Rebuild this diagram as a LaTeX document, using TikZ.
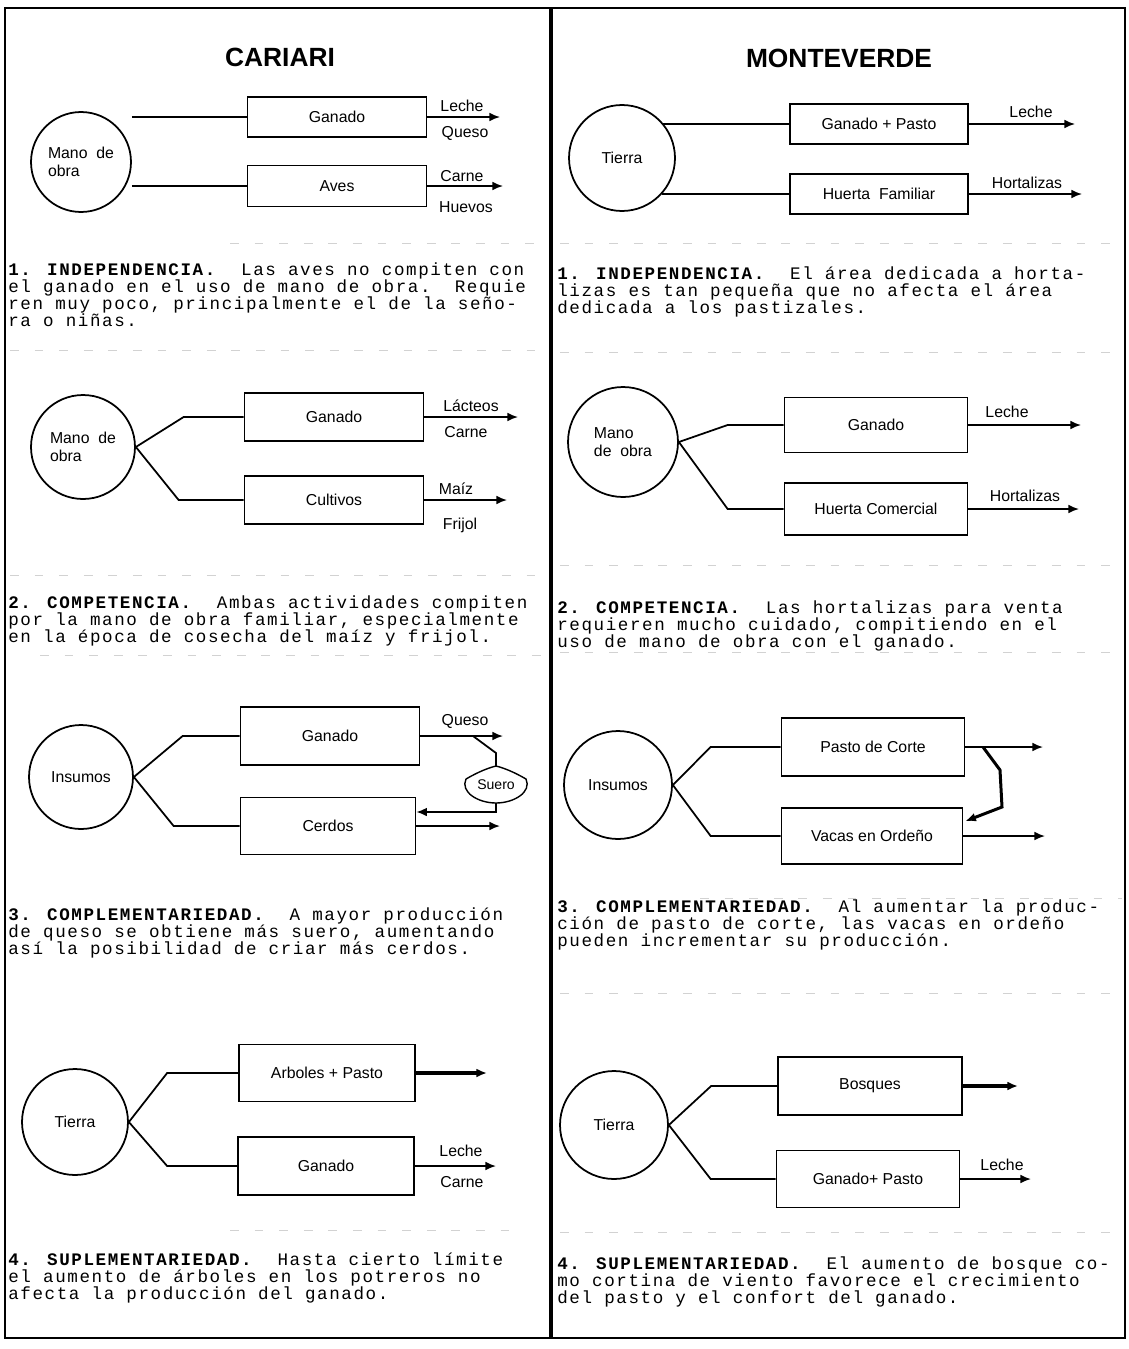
\documentclass[tikz,border=0pt]{standalone}
\usepackage{fontspec}
\setsansfont{Liberation Sans}
\setmonofont{Liberation Mono}
\newfontfamily\maquina{Liberation Mono}[LetterSpace=9]
\usetikzlibrary{arrows.meta,calc}
\newcommand{\apretado}{\lineskiplimit=-20pt\relax\lineskip=0pt\relax}

\begin{document}
\begin{tikzpicture}[x=0.02cm, y=-0.02cm,
    every node/.style={inner sep=0pt},
    lab/.style={font=\sffamily\fontsize{9}{10.5}\selectfont},
    titulo/.style={font=\sffamily\bfseries\fontsize{15}{17}\selectfont},
    fuente/.style={draw, circle, line width=1pt, align=left, lab},
    act/.style={draw, line width=1pt, minimum width=3.58cm, lab},
    flujo/.style={line width=1pt},
    sale/.style={line width=1pt, -{Latex[length=6pt,width=5pt]}},
    gruesa/.style={sale, line width=2.2pt},
    texto/.style={anchor=north west, align=left,
        font=\maquina\fontsize{10}{9.8}\selectfont\apretado},
    borron/.style={gray!35, line width=0.5pt, dash pattern=on 5pt off 9pt}
]
\useasboundingbox (0,0) rectangle (1129,1349);
% ---------------- marco ----------------
\draw[line width=1.6pt] (5,8) rectangle (1125,1338);
\draw[line width=2pt] (551,8) -- (551,1338);
\foreach \yy/\xa/\xb in {243/230/545, 350/10/545, 575/10/545, 655/40/545, 1230/230/520,
    243/560/1122, 352/560/1122, 565/560/1122, 652/560/1122, 898/700/1122, 993/560/1122, 1232/560/1122}
  \draw[borron] (\xa,\yy) -- (\xb,\yy);
\node[titulo] (cariari) at (280,57) {CARIARI};
\node[titulo] (monte) at (839,58) {MONTEVERDE};

% ---------------- Cariari 1 ----------------
\node[fuente, minimum size=2cm] (mo1) at (81,162) {Mano~~de\\obra};
\node[act, minimum height=0.8cm] (gan1) at (337,117) {Ganado};
\node[act, minimum height=0.82cm] (ave1) at (337,186) {Aves};
\coordinate (f1a) at (500,117);
\coordinate (f1b) at (503,186);
\draw[flujo] (gan1.west -| mo1.east) -- (gan1.west);
\draw[flujo] (ave1.west -| mo1.east) -- (ave1.west);
\draw[sale] (gan1.east) -- (f1a);
\draw[sale] (ave1.east) -- (f1b);
\node[lab] (l1a) at (462,106) {Leche};
\node[lab] (l1b) at (465,133) {Queso};
\node[lab] (l1c) at (462,176) {Carne};
\node[lab] (l1d) at (466,207) {Huevos};
\node[texto] (t1) at (8,262) {\textbf{1. INDEPENDENCIA.}~~Las aves no compiten con\\
el ganado en el uso de mano de obra.~~Requie\\
ren muy poco, principalmente el de la seño-\\
ra o niñas.};

% ---------------- Monteverde 1 ----------------
\node[fuente, minimum size=2.12cm] (tie1) at (622,158) {Tierra};
\node[act, minimum width=3.56cm, minimum height=0.8cm] (gp1) at (879,124) {Ganado + Pasto};
\node[act, minimum width=3.56cm, minimum height=0.8cm] (hf1) at (879,194) {Huerta~~Familiar};
\coordinate (f1c) at (1075,124);
\coordinate (f1d) at (1082,194);
\draw[flujo] (gp1.west -| tie1.40) -- (gp1.west);
\draw[flujo] (hf1.west -| tie1.-42) -- (hf1.west);
\draw[sale] (gp1.east) -- (f1c);
\draw[sale] (hf1.east) -- (f1d);
\node[lab] (l1e) at (1031,112) {Leche};
\node[lab] (l1f) at (1027,183) {Hortalizas};
\node[texto] (t1r) at (557,266) {\textbf{1. INDEPENDENCIA.}~~El área dedicada a horta-\\
lizas es tan pequeña que no afecta el área\\
dedicada a los pastizales.};

% ---------------- Cariari 2 ----------------
\node[fuente, minimum size=2.08cm] (mo2) at (83,447) {Mano~~de\\obra};
\node[act, minimum height=0.96cm] (gan2) at (334,417) {Ganado};
\node[act, minimum height=0.96cm] (cul2) at (334,500) {Cultivos};
\coordinate (f2a) at (518,417);
\coordinate (f2b) at (507,500);
\draw[flujo] (mo2.east) -- ($(gan2.west)+(-60,0)$) -- (gan2.west);
\draw[flujo] (mo2.east) -- ($(cul2.west)+(-65,0)$) -- (cul2.west);
\draw[sale] (gan2.east) -- (f2a);
\draw[sale] (cul2.east) -- (f2b);
\node[lab] (l2a) at (471,406) {Lácteos};
\node[lab] (l2b) at (466,432) {Carne};
\node[lab] (l2c) at (456,489) {Maíz};
\node[lab] (l2d) at (460,525) {Frijol};
\node[texto] (t2) at (8,595) {\textbf{2. COMPETENCIA.}~~Ambas actividades compiten\\
por la mano de obra familiar, especialmente\\
en la época de cosecha del maíz y frijol.};

% ---------------- Monteverde 2 ----------------
\node[fuente, minimum size=2.2cm] (mo2r) at (623,442) {Mano\\de~~obra};
\node[act, minimum width=3.66cm, minimum height=1.1cm] (gan2r) at (876,425) {Ganado};
\node[act, minimum width=3.66cm, minimum height=1.04cm] (hc2) at (876,509) {Huerta Comercial};
\coordinate (f2c) at (1081,425);
\coordinate (f2d) at (1079,509);
\draw[flujo] (mo2r.east) -- ($(gan2r.west)+(-56,0)$) -- (gan2r.west);
\draw[flujo] (mo2r.east) -- ($(hc2.west)+(-56,0)$) -- (hc2.west);
\draw[sale] (gan2r.east) -- (f2c);
\draw[sale] (hc2.east) -- (f2d);
\node[lab] (l2e) at (1007,412) {Leche};
\node[lab] (l2f) at (1025,496) {Hortalizas};
\node[texto] (t2r) at (557,600) {\textbf{2. COMPETENCIA.}~~Las hortalizas para venta\\
requieren mucho cuidado, compitiendo en el\\
uso de mano de obra con el ganado.};

% ---------------- Cariari 3 ----------------
\node[fuente, minimum size=2.08cm] (ins3) at (81,777) {Insumos};
\node[act, minimum height=1.16cm] (gan3) at (330,736) {Ganado};
\node[act, minimum width=3.5cm, minimum height=1.14cm] (cer3) at (328,826) {Cerdos};
\coordinate (f3a) at (503,736);
\coordinate (f3b) at (500,826);
\draw[flujo] (ins3.east) -- ($(gan3.west)+(-57,0)$) -- (gan3.west);
\draw[flujo] (ins3.east) -- ($(cer3.west)+(-66,0)$) -- (cer3.west);
\draw[sale] (gan3.east) -- (f3a);
\draw[sale] (cer3.east) -- (f3b);
\node[lab] (l3a) at (465,721) {Queso};
% suero: sale del queso y vuelve a los cerdos
\coordinate (qsp) at (473,736);
\coordinate (qcodo) at (496,753);
\coordinate (bagtop) at (496,766);
\coordinate (bagbot) at (496,803);
\coordinate (retorno) at ($(cer3.east)+(0,-14)$);
\draw[flujo] (qsp) -- (qcodo) -- (bagtop);
\draw[line width=0.8pt] (466,779) .. controls (478,772) and (488,768) .. (bagtop)
  .. controls (504,768) and (514,772) .. (526,779)
  .. controls (532,792) and (514,803) .. (bagbot)
  .. controls (478,803) and (460,792) .. (466,779);
\node[font=\sffamily\fontsize{8}{9}\selectfont] (suero) at (496,785) {Suero};
\draw[sale] (bagbot) -- (bagbot |- retorno) -- (retorno);
\node[texto] (t3) at (8,907) {\textbf{3. COMPLEMENTARIEDAD.}~~A mayor producción\\
de queso se obtiene más suero, aumentando\\
así la posibilidad de criar más cerdos.};

% ---------------- Monteverde 3 ----------------
\node[fuente, minimum size=2.16cm] (ins3r) at (618,785) {Insumos};
\node[act, minimum width=3.66cm, minimum height=1.16cm] (pc3) at (873,747) {Pasto de Corte};
\node[act, minimum width=3.62cm, minimum height=1.12cm] (vo3) at (872,836) {Vacas en Ordeño};
\coordinate (f3c) at (1043,747);
\coordinate (f3d) at (1045,836);
\draw[flujo] (ins3r.east) -- ($(pc3.west)+(-70,0)$) -- (pc3.west);
\draw[flujo] (ins3r.east) -- ($(vo3.west)+(-70,0)$) -- (vo3.west);
\draw[sale] (pc3.east) -- (f3c);
\draw[sale] (vo3.east) -- (f3d);
% pasto cortado hacia las vacas
\coordinate (pcsp) at (983,747);
\coordinate (codo1) at (1000,770);
\coordinate (codo2) at (1002,807);
\draw[sale, line width=1.7pt] (pcsp) -- (codo1) -- (codo2) -- ($(vo3.north east)+(2,14)$);
\node[texto] (t3r) at (557,899) {\textbf{3. COMPLEMENTARIEDAD.}~~Al aumentar la produc-\\
ción de pasto de corte, las vacas en ordeño\\
pueden incrementar su producción.};

% ---------------- Cariari 4 ----------------
\node[fuente, minimum size=2.12cm] (tie4) at (75,1122) {Tierra};
\node[act, minimum width=3.52cm, minimum height=1.14cm] (arb4) at (327,1073) {Arboles + Pasto};
\node[act, minimum width=3.52cm, minimum height=1.16cm] (gan4) at (326,1166) {Ganado};
\coordinate (f4a) at (487,1073);
\coordinate (f4b) at (496,1166);
\draw[flujo] (tie4.east) -- ($(arb4.west)+(-71,0)$) -- (arb4.west);
\draw[flujo] (tie4.east) -- ($(gan4.west)+(-70,0)$) -- (gan4.west);
\draw[gruesa] (arb4.east) -- (f4a);
\draw[sale] (gan4.east) -- (f4b);
\node[lab] (l4a) at (461,1151) {Leche};
\node[lab] (l4b) at (462,1182) {Carne};
\node[texto] (t4) at (8,1252) {\textbf{4. SUPLEMENTARIEDAD.}~~Hasta cierto límite\\
el aumento de árboles en los potreros no\\
afecta la producción del ganado.};

% ---------------- Monteverde 4 ----------------
\node[fuente, minimum size=2.16cm] (tie4r) at (614,1125) {Tierra};
\node[act, minimum width=3.68cm, minimum height=1.16cm] (bos4) at (870,1086) {Bosques};
\node[act, minimum width=3.66cm, minimum height=1.14cm] (gp4) at (868,1179) {Ganado+ Pasto};
\coordinate (f4c) at (1018,1086);
\coordinate (f4d) at (1031,1179);
\draw[flujo] (tie4r.east) -- ($(bos4.west)+(-66,0)$) -- (bos4.west);
\draw[flujo] (tie4r.east) -- ($(gp4.west)+(-65,0)$) -- (gp4.west);
\draw[gruesa] (bos4.east) -- (f4c);
\draw[sale] (gp4.east) -- (f4d);
\node[lab] (l4c) at (1002,1165) {Leche};
\node[texto] (t4r) at (557,1256) {\textbf{4. SUPLEMENTARIEDAD.}~~El aumento de bosque co-\\
mo cortina de viento favorece el crecimiento\\
del pasto y el confort del ganado.};
\end{tikzpicture}
\end{document}
